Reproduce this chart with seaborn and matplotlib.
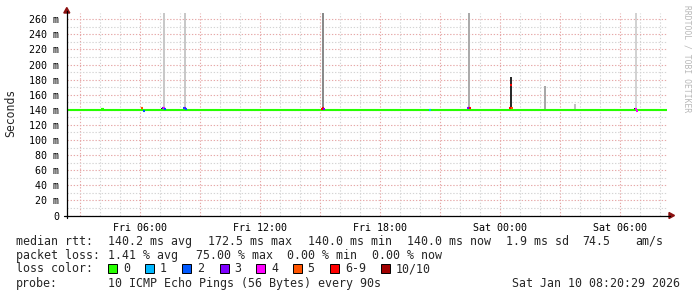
import numpy as np
import pandas as pd
import matplotlib
matplotlib.use("Agg")
import matplotlib.pyplot as plt
from matplotlib.patches import Rectangle, Polygon
from matplotlib.lines import Line2D
import seaborn as sns

# ---------------- data ----------------
start_label = "Fri 02:20:29"
end_label = "Sat 08:20:29"
baseline_ms = 140.0

x_tick_labels = ["Fri 06:00", "Fri 12:00", "Fri 18:00", "Sat 00:00", "Sat 06:00"]
y_tick_values = [0, 20, 40, 60, 80, 100, 120, 140, 160, 180, 200, 220, 240, 260]
y_tick_labels = ["0"] + [f"{v} m" for v in y_tick_values[1:]]

loss_names = ["0", "1", "2", "3", "4", "5", "6-9", "10/10"]
loss_colors = ["#26ff00", "#00b8ff", "#0059ff", "#7e00ff", "#ff00ff",
               "#ff5500", "#ff0000", "#a10000"]

# median rtt samples that differ from the baseline (time, ms, loss class)
event_times = ["Fri 04:06", "Fri 04:09", "Fri 06:06", "Fri 06:12", "Fri 07:09", "Fri 07:12",
               "Fri 07:15", "Fri 08:13", "Fri 08:16", "Fri 08:19", "Fri 15:07",
               "Fri 15:10", "Fri 15:13", "Fri 20:30", "Fri 22:25", "Fri 22:28",
               "Fri 22:31", "Sat 00:31", "Sat 00:34", "Sat 00:37", "Sat 06:48",
               "Sat 06:51"]
event_ms = [141.3, 141.3, 142.0, 139.0, 142.0, 142.5, 141.0, 142.0, 142.5, 141.0, 141.5,
            142.0, 141.0, 139.5, 142.0, 142.0, 142.5, 142.0, 172.5, 143.0,
            141.0, 139.0]
event_loss = [0, 0, 5, 2, 3, 4, 2, 2, 3, 2, 6, 6, 3, 1, 3, 3, 6, 6, 6, 5, 4, 4]

# smoke (spread of the individual pings)
smoke_times = ["Fri 07:06", "Fri 07:12", "Fri 08:16", "Fri 15:10", "Fri 22:28",
               "Sat 00:34", "Sat 02:15", "Sat 03:45", "Sat 06:45", "Sat 06:48"]
smoke_top_ms = [143.0, 300.0, 300.0, 300.0, 300.0, 183.0, 172.0, 148.0, 143.0, 300.0]
smoke_bottom_ms = [140.0, 141.0, 141.0, 141.0, 141.0, 141.0, 141.0, 141.0, 140.0, 141.0]
smoke_shades = ["#202020", "#c8c8c8", "#c8c8c8", "#8a8a8a", "#ababab",
                "#2a2a2a", "#a8a8a8", "#c0c0c0", "#202020", "#d2d2d2"]

rtt_label = "median rtt:"
rtt_stats = ["140.2 ms avg", "172.5 ms max", "140.0 ms min", "140.0 ms now",
             "1.9 ms sd", "74.5", "am/s"]
loss_label = "packet loss:"
loss_stats = ["1.41 % avg", "75.00 % max", "0.00 % min", "0.00 % now"]
probe_label = "probe:"
probe_text = "10 ICMP Echo Pings (56 Bytes) every 90s"
date_text = "Sat Jan 10 08:20:29 2026"
watermark = "RRDTOOL / TOBI OETIKER"


def hours(label):
    day, hm = label.split(" ", 1)
    p = [int(v) for v in hm.split(":")]
    h = p[0] + p[1] / 60 + (p[2] / 3600 if len(p) > 2 else 0)
    return h + (24 if day == "Sat" else 0)


# ---------------- figure ----------------
W, H = 697, 297
sns.set_style("white")
plt.rcParams["font.family"] = ["DejaVu Sans Mono"]
fig = plt.figure(figsize=(W / 100, H / 100), dpi=100)
fig.patch.set_facecolor("white")


def fx(px):
    return px / W


def fy(py):
    return 1 - py / H


ax_left, ax_right, ax_bottom, ax_top = 66.8, 666.8, 215.5, 13.0
ax = fig.add_axes([fx(ax_left), fy(ax_bottom), (ax_right - ax_left) / W, (ax_bottom - ax_top) / H])
ax.set_facecolor("white")

x0, x1 = hours(start_label), hours(end_label)
ax.set_xlim(x0, x1)
ax.set_ylim(0, 268.3)

# grid
minor_c = "#d4d4d4"
major_c = "#e6a8a8"
dash = (0, (1.2, 1.6))
ax.set_xticks([h for h in range(3, 33, 3)])
ax.set_xticks([h for h in range(3, 33)], minor=True)
ax.set_yticks(y_tick_values)
ax.set_yticks(list(range(10, 270, 20)), minor=True)
ax.grid(True, which="major", color=major_c, linestyle=dash, linewidth=0.8)
ax.grid(True, which="minor", color=minor_c, linestyle=dash, linewidth=0.8)
ax.set_axisbelow(True)

lab_hours = [hours(l) for l in x_tick_labels]
ax.set_xticklabels([x_tick_labels[lab_hours.index(h)] if h in lab_hours else "" for h in range(3, 33, 3)])
ax.set_yticklabels(y_tick_labels)
ax.tick_params(axis="x", which="major", length=2.2, width=0.7, color="#000000", pad=3.5,
               labelsize=7.2, labelcolor="black", direction="out")
ax.tick_params(axis="x", which="minor", length=1.2, width=0.6, color="#888888", direction="out")
ax.tick_params(axis="y", which="major", length=2.2, width=0.7, color="#e6a8a8", pad=3.5,
               labelsize=7.2, labelcolor="black")
ax.tick_params(axis="y", which="minor", length=0)
for s in ax.spines.values():
    s.set_visible(False)

# smoke
sm_x = [hours(t) for t in smoke_times]
for xx, top, bot, c in zip(sm_x, smoke_top_ms, smoke_bottom_ms, smoke_shades):
    ax.bar(xx, top - bot, bottom=bot, width=0.09, color=c, linewidth=0, zorder=2)

# baseline median
base_df = pd.DataFrame({"t": [x0, x1], "ms": [baseline_ms, baseline_ms]})
sns.lineplot(data=base_df, x="t", y="ms", color=loss_colors[0], linewidth=1.5, ax=ax, zorder=3)

# median samples coloured by loss
for t, v, l in zip(event_times, event_ms, event_loss):
    xx = hours(t)
    ax.hlines(v, xx - 0.05, xx + 0.05, color=loss_colors[l], linewidth=1.5, zorder=4)

ax.set_xlabel("")
ax.set_ylabel("")

# axis lines and arrows
arrow_c = "#8b1010"
fig.add_artist(Line2D([fx(ax_left), fx(ax_left)], [fy(218), fy(11)], color="black", linewidth=0.9))
fig.add_artist(Line2D([fx(64), fx(670)], [fy(ax_bottom), fy(ax_bottom)], color="black", linewidth=0.9))
fig.add_artist(Polygon([[fx(ax_left - 3), fy(13)], [fx(ax_left + 3), fy(13)], [fx(ax_left), fy(7.5)]],
                       closed=True, color=arrow_c, transform=fig.transFigure))
fig.add_artist(Polygon([[fx(669), fy(ax_bottom - 3)], [fx(669), fy(ax_bottom + 3)], [fx(674.5), fy(ax_bottom)]],
                       closed=True, color=arrow_c, transform=fig.transFigure))

# y label and watermark
fig.text(fx(11), fy(113), "Seconds", rotation=90, ha="center", va="center", fontsize=8.3)
fig.text(fx(686.5), fy(59), watermark, rotation=270, ha="center", va="center",
         fontsize=5.8, color="#b8b8b8")

# legend rows (text placed on its baseline)
fs = 8.4
r1, r2, r3, r4 = 241, 255, 268.5, 283
bl = 4.0


def row_text(xp, row, s, **kw):
    fig.text(fx(xp), fy(row + bl), s, fontsize=fs, va="baseline", **kw)


row_text(16, r1, rtt_label)
for xp, s in zip([107.6, 207.5, 307.5, 407.5, 506, 582, 635.5], rtt_stats):
    row_text(xp, r1, s)

row_text(16, r2, loss_label)
for xp, s in zip([107.6, 195.6, 286.7, 372.4], loss_stats):
    row_text(xp, r2, s)

row_text(16, r3, "loss color:")
box_x = [108, 145.3, 182, 219.5, 256.4, 293.3, 330, 381]
lab_x = [123, 160, 197, 234, 271, 307.5, 345, 396]
for bx, lx, name, c in zip(box_x, lab_x, loss_names, loss_colors):
    fig.add_artist(Rectangle((fx(bx), fy(r3 + 4.5)), 9 / W, 9 / H, facecolor=c,
                             edgecolor="black", linewidth=0.7, transform=fig.transFigure))
    row_text(lx, r3, name)

row_text(16, r4, probe_label)
row_text(107.6, r4, probe_text)
row_text(680.5, r4, date_text, ha="right")

fig.savefig("out.png", dpi=100, facecolor="white")
